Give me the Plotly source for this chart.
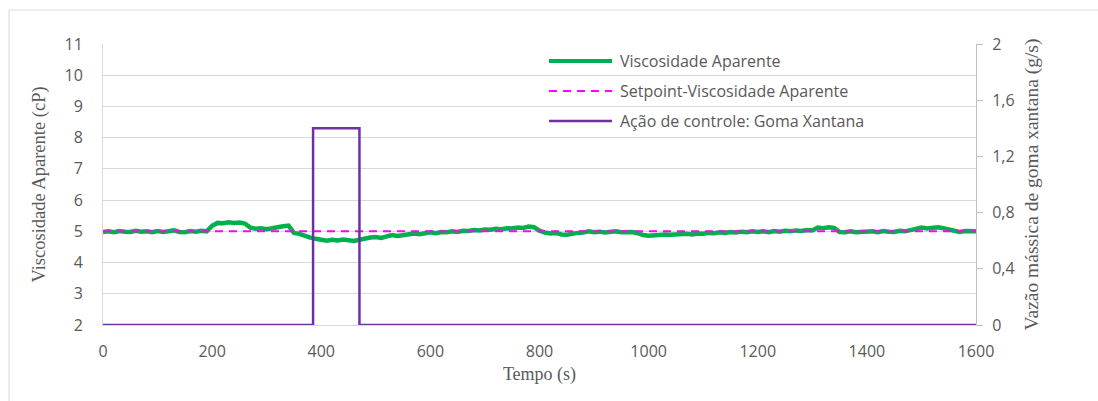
import plotly.graph_objects as go

# ---- data ----
visc_time = list(range(0, 1601, 10))
visc_values = [
    4.98, 5.00, 4.97, 5.01, 4.99, 4.98, 5.02, 4.99, 5.00, 4.97,
    5.01, 4.98, 5.00, 5.03, 4.98, 4.97, 5.01, 4.99, 5.02, 5.00,
    5.18, 5.27, 5.26, 5.29, 5.27, 5.28, 5.25, 5.12, 5.08, 5.10,
    5.07, 5.11, 5.13, 5.16, 5.18, 4.95, 4.92, 4.85, 4.80, 4.76,
    4.72, 4.70, 4.73, 4.71, 4.74, 4.72, 4.69, 4.73, 4.78, 4.80,
    4.82, 4.79, 4.84, 4.88, 4.85, 4.87, 4.90, 4.93, 4.91, 4.95,
    4.97, 4.94, 4.98, 4.97, 5.00, 4.98, 5.02, 5.01, 5.04, 5.03,
    5.06, 5.05, 5.08, 5.07, 5.10, 5.09, 5.12, 5.11, 5.15, 5.13,
    5.02, 4.96, 4.93, 4.95, 4.90, 4.89, 4.93, 4.95, 4.96, 5.00,
    4.97, 4.99, 4.96, 4.98, 5.00, 4.97, 4.99, 4.98, 4.94, 4.88,
    4.86, 4.88, 4.87, 4.90, 4.89, 4.91, 4.90, 4.92, 4.90, 4.93,
    4.92, 4.95, 4.94, 4.97, 4.95, 4.98, 4.96, 4.99, 4.97, 5.00,
    4.98, 5.00, 4.97, 5.01, 4.99, 5.02, 5.00, 5.03, 5.01, 5.04,
    5.03, 5.12, 5.10, 5.13, 5.11, 4.98, 4.97, 5.00, 4.97, 4.99,
    4.98, 5.00, 4.97, 5.01, 4.99, 4.98, 5.02, 5.00, 5.04, 5.08,
    5.12, 5.09, 5.11, 5.13, 5.10, 5.06, 5.00, 4.98, 5.01, 4.99,
    5.00,
]
setpoint_time = [0, 1600]
setpoint_values = [5, 5]
control_time = [0, 385, 470, 1600]
control_values = [0, 1.4, 0, 0]

x_ticks = [0, 200, 400, 600, 800, 1000, 1200, 1400, 1600]
y2_tickvals = [0, 0.4, 0.8, 1.2, 1.6, 2]
y2_ticktext = ["0", "0,4", "0,8", "1,2", "1,6", "2"]

names = ["Viscosidade Aparente", "Setpoint-Viscosidade Aparente", "Ação de controle: Goma Xantana"]

GREEN = "#00B050"
MAGENTA = "#FF00FF"
PURPLE = "#7030A0"
GRID = "#d9d9d9"
TXT = "#595959"
SANS = "Open Sans"
SERIF = "Liberation Serif"

fig = go.Figure()
fig.add_trace(go.Scatter(x=visc_time, y=visc_values, mode="lines", name=names[0],
                         line=dict(color=GREEN, width=4.5), yaxis="y"))
fig.add_trace(go.Scatter(x=setpoint_time, y=setpoint_values, mode="lines", name=names[1],
                         line=dict(color=MAGENTA, width=2, dash="8px,6px"), yaxis="y"))
fig.add_trace(go.Scatter(x=control_time, y=control_values, mode="lines", name=names[2],
                         line=dict(color=PURPLE, width=2.5, shape="hv"), yaxis="y2"))

# plot area geometry (px)
L, R, T, B = 103, 976, 44, 325
W, H = R - L, B - T
def px(x):
    return (x - L) / W
def py(y):
    return (B - y) / H

shapes = [
    dict(type="rect", xref="paper", yref="paper", x0=px(9), x1=px(1200), y0=py(500), y1=py(10),
         line=dict(color=GRID, width=1), fillcolor="rgba(0,0,0,0)", layer="below"),
]
annotations = []
legend_styles = [
    dict(color=GREEN, width=4),
    dict(color=MAGENTA, width=2, dash="8px,6px"),
    dict(color=PURPLE, width=2.5),
]
for i, (nm, st) in enumerate(zip(names, legend_styles)):
    yy = 61 + 30 * i
    shapes.append(dict(type="line", xref="paper", yref="paper", x0=px(549), x1=px(612),
                       y0=py(yy), y1=py(yy), line=st))
    annotations.append(dict(xref="paper", yref="paper", x=px(618), y=py(yy), text=nm,
                            showarrow=False, xanchor="left", yanchor="middle",
                            font=dict(family=SANS, size=16, color=TXT)))

fig.update_layout(
    width=1098, height=401,
    margin=dict(l=L, r=1098 - R, t=T, b=401 - B),
    paper_bgcolor="white", plot_bgcolor="white",
    showlegend=False,
    shapes=shapes,
    annotations=annotations,
    xaxis=dict(range=[0, 1600], tickvals=x_ticks, showgrid=False, zeroline=False,
               showline=True, linecolor=GRID, ticks="", ticklabelstandoff=12, automargin=False,
               tickfont=dict(family=SANS, size=16, color=TXT),
               title=dict(text="Tempo (s)", font=dict(family=SERIF, size=18, color=TXT), standoff=6)),
    yaxis=dict(range=[2, 11], dtick=1, showgrid=True, gridcolor=GRID, zeroline=False,
               showline=True, linecolor=GRID, ticks="", ticklabelstandoff=16, automargin=False,
               tickfont=dict(family=SANS, size=16, color=TXT),
               title=dict(text="Viscosidade Aparente (cP)", font=dict(family=SERIF, size=18.5, color=TXT), standoff=14)),
    yaxis2=dict(range=[0, 2], overlaying="y", side="right", tickvals=y2_tickvals, ticktext=y2_ticktext,
                showgrid=False, zeroline=False, showline=True, linecolor="#bfbfbf", automargin=False,
                ticks="outside", ticklen=6, tickcolor="#bfbfbf", ticklabelstandoff=6,
                tickfont=dict(family=SANS, size=16, color=TXT),
                title=dict(text="Vazão mássica de goma xantana (g/s)", font=dict(family=SERIF, size=19.5, color=TXT), standoff=10)),
)

fig.write_html("out.html", config={"displayModeBar": False},
               post_script="document.body.style.margin='0';document.body.style.overflow='hidden';")
